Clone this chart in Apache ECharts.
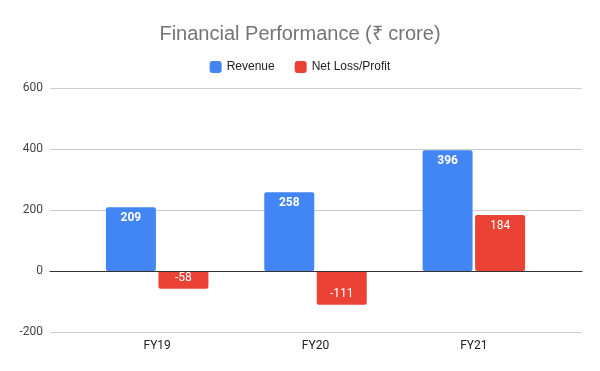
<!DOCTYPE html>
<html><head><meta charset="utf-8">
<script src="https://cdn.jsdelivr.net/npm/echarts@6/dist/echarts.min.js"></script>
<style>html,body{margin:0;padding:0;background:#fff}#c{width:600px;height:371px}</style>
</head><body><div id="c"></div>
<script>
const categories = ['FY19', 'FY20', 'FY21'];
const revenue = [209, 258, 396];
const netLossProfit = [-58, -111, 184];
const yTicks = { min: -200, max: 600, interval: 200 };

const chart = echarts.init(document.getElementById('c'), null, { renderer: 'canvas' });
const FONT = 'Roboto, "Noto Sans", sans-serif';
const AFONT = '"Liberation Sans", Arial, sans-serif';
function items(arr, bold) {
  return arr.map(v => ({
    value: v,
    label: { position: v >= 0 ? 'insideTop' : 'insideBottom', fontWeight: bold ? 'bold' : 'normal' }
  }));
}
chart.setOption({
  animation: false,
  title: {
    text: 'Financial Performance (₹ crore)', left: 'center', top: 19,
    textStyle: { fontFamily: AFONT, fontSize: 20, fontWeight: 'normal', color: '#757575' }
  },
  legend: {
    top: 56, left: 'center', itemWidth: 12, itemHeight: 12, itemGap: 20,
    icon: 'roundRect',
    textStyle: { fontFamily: AFONT, fontSize: 12, color: '#222' },
    data: ['Revenue', 'Net Loss/Profit']
  },
  grid: [
    { left: 78, right: 47, top: 88, bottom: 39 },
    { left: 50, right: 18, top: 88, bottom: 39 }
  ],
  xAxis: [
    { type: 'category', gridIndex: 0, data: categories,
      axisLine: { show: false }, axisTick: { show: false },
      axisLabel: { fontFamily: FONT, fontSize: 12, color: '#222', margin: 8 } ,
      z: 5},
    { type: 'value', gridIndex: 1, min: 0, max: 1, show: true,
      axisLine: { show: true, onZero: true, lineStyle: { color: '#333', width: 1 } },
      axisTick: { show: false }, axisLabel: { show: false }, splitLine: { show: false }, z: 10 }
  ],
  yAxis: [
    { type: 'value', gridIndex: 0, min: yTicks.min, max: yTicks.max, interval: yTicks.interval,
      show: false, splitLine: { show: false } },
    { type: 'value', gridIndex: 1, min: yTicks.min, max: yTicks.max, interval: yTicks.interval,
      axisLine: { show: false }, axisTick: { show: false },
      axisLabel: { fontFamily: FONT, fontSize: 12, color: '#444', margin: 7 },
      splitLine: { lineStyle: { color: '#cccccc', width: 1 } } }
  ],
  series: [
    { name: 'Revenue', type: 'bar', xAxisIndex: 0, yAxisIndex: 0,
      data: items(revenue, true), barWidth: 50, barGap: '5%',
      itemStyle: { color: '#4285F4', borderRadius: 2 },
      label: { show: true, color: '#fff', fontFamily: FONT, fontSize: 12, distance: 5 } },
    { name: 'Net Loss/Profit', type: 'bar', xAxisIndex: 0, yAxisIndex: 0,
      data: items(netLossProfit, false), barWidth: 50, barGap: '5%',
      itemStyle: { color: '#EA4335', borderRadius: 2 },
      label: { show: true, color: '#fff', fontFamily: FONT, fontSize: 12, distance: 5 } }
  ]
});
</script></body></html>
